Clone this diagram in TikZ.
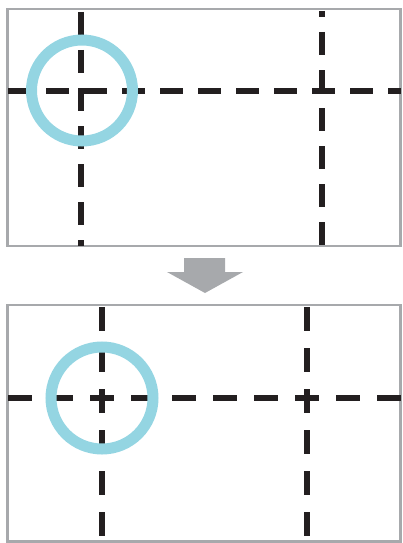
\documentclass[tikz,border=0pt]{standalone}
\usepackage{xcolor}
\usepackage{tikz}
\definecolor{grisclair}{RGB}{167,169,172}
\definecolor{noirencre}{RGB}{35,31,32}
\definecolor{bleuclair}{RGB}{148,213,226}

\begin{document}
\begin{tikzpicture}[x=1pt,y=-1pt,
    cadre/.style={draw=grisclair, line width=2.5pt},
    repere/.style={draw=noirencre, line width=6pt},
    bague/.style={draw=bleuclair, line width=11pt}]
    \useasboundingbox (0,0) rectangle (402,543);

    % Cadres
    \draw[cadre] (7.5,9) rectangle (400.5,246);
    \draw[cadre] (7.5,305) rectangle (400.5,541.5);

    % Lignes de repère (avant)
    \draw[repere, dash pattern=on 23pt off 15pt] (8,91) -- (401,91);
    \draw[repere, dash pattern=on 23pt off 15pt] (81,12) -- (81,246);
    \draw[repere, dash pattern=on 23pt off 15pt, dash phase=17pt] (321.5,11) -- (321.5,246);

    % Lignes de repère (après)
    \draw[repere, dash pattern=on 24pt off 17pt] (8,398) -- (401,398);
    \draw[repere, dash pattern=on 24pt off 17pt] (102,307) -- (102,541);
    \draw[repere, dash pattern=on 24pt off 17pt] (307,307) -- (307,541);

    % Cercles
    \draw[bague] (82,90.5) circle (50.5);
    \draw[bague] (102,398) circle (51);

    % Flèche
    \fill[grisclair] (184,258) -- (225,258) -- (225,272) -- (243,272)
        -- (205,293) -- (167,272) -- (184,272) -- cycle;
\end{tikzpicture}
\end{document}
